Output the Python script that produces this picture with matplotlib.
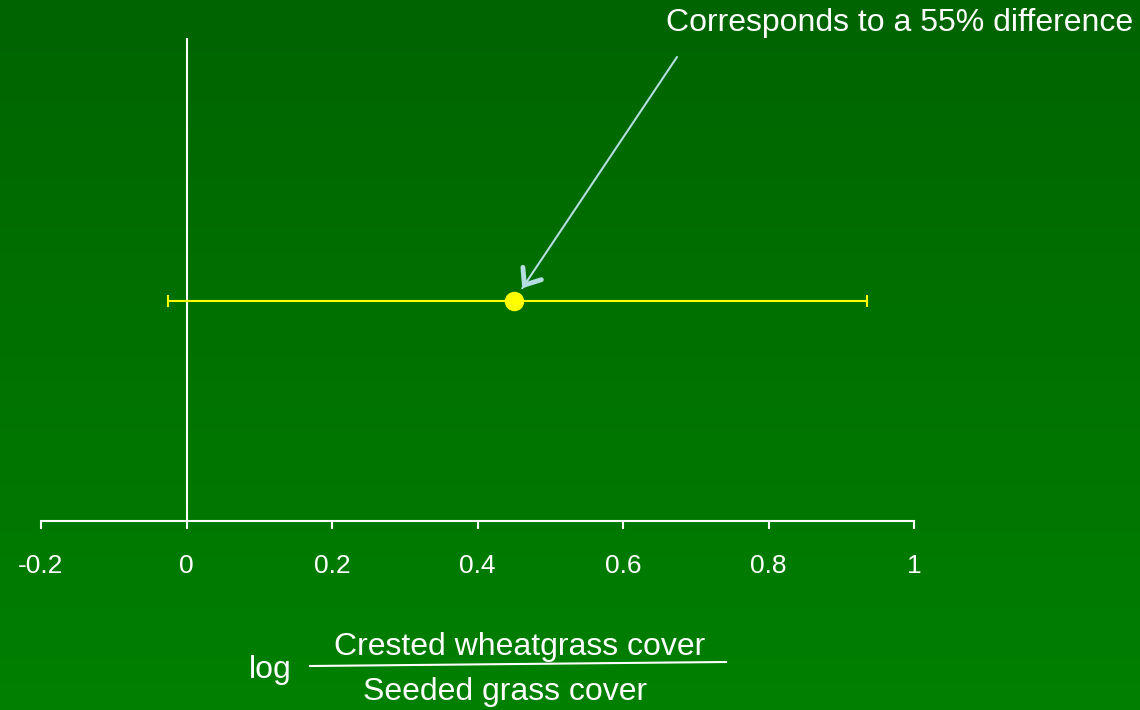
import numpy as np
import matplotlib.pyplot as plt

plt.rcParams['font.family'] = ['Liberation Sans', 'DejaVu Sans']

# effect size with its interval
estimate = [0.45]
ci_low = [-0.025]
ci_high = [0.935]
row = [0]

ticks = [-0.2, 0, 0.2, 0.4, 0.6, 0.8, 1]
tick_labels = ['-0.2', '0', '0.2', '0.4', '0.6', '0.8', '1']

fig = plt.figure(figsize=(11.4, 7.1), dpi=100)

# green backdrop, darker at the top
bg = fig.add_axes([0, 0, 1, 1])
grad = np.linspace(0, 1, 256).reshape(-1, 1)
top = np.array([0, 100, 0]) / 255
bottom = np.array([0, 128, 0]) / 255
img = top + (bottom - top) * grad[..., None]
bg.imshow(img, aspect='auto', extent=[0, 1, 0, 1], origin='upper')
bg.axis('off')

ax = fig.add_axes([41 / 1140, 189 / 710, 873 / 1140, 483 / 710])
ax.patch.set_alpha(0)
ax.set_xlim(-0.2, 1)
ax.set_ylim(-1, 1.2)

ax.axvline(0, color='white', lw=1.5, zorder=1)

lo = np.array(estimate) - np.array(ci_low)
hi = np.array(ci_high) - np.array(estimate)
ax.errorbar(estimate, row, xerr=[lo, hi], fmt='o', color='yellow',
            ms=13, elinewidth=1.5, capsize=4.5, capthick=1.5, zorder=3)

for side in ['top', 'right', 'left']:
    ax.spines[side].set_visible(False)
ax.spines['bottom'].set_color('white')
ax.spines['bottom'].set_linewidth(1.5)
ax.set_yticks([])
ax.set_xticks(ticks)
ax.set_xticklabels(tick_labels)
ax.tick_params(axis='x', colors='white', direction='out', length=6, width=1.5,
               pad=18, labelsize=19)

fig.text(1133 / 1140, 1 - 23 / 710, 'Corresponds to a 55% difference',
         ha='right', va='center', color='white', fontsize=23)

# pointer: thin shaft plus a heavier head just above the point
arrow_col = '#b4dde2'
tip = np.array([estimate[0] + 0.0115, row[0] + 0.06])
start_fig = (677 / 1140, 1 - 57 / 710)
start = ax.transData.inverted().transform(fig.transFigure.transform(start_fig))
ax.annotate('', xy=tip, xytext=start_fig, textcoords='figure fraction',
            arrowprops=dict(arrowstyle='-', color=arrow_col, lw=1.5,
                            shrinkA=0, shrinkB=0))
head_base = tip + (start - tip) * 0.02
ax.annotate('', xy=tip, xytext=head_base,
            arrowprops=dict(arrowstyle='->, head_length=1.0, head_width=0.8',
                            color=arrow_col, lw=3.5, shrinkA=0, shrinkB=0,
                            capstyle='round', joinstyle='round'))

# axis label written as a log ratio
fig.text(270 / 1140, 1 - 670 / 710, 'log', color='white', fontsize=23,
         ha='center', va='center')
fig.text(520 / 1140, 1 - 647 / 710, 'Crested wheatgrass cover', color='white',
         fontsize=23, ha='center', va='center')
fig.text(505 / 1140, 1 - 692 / 710, 'Seeded grass cover', color='white',
         fontsize=23, ha='center', va='center')
fig.add_artist(plt.Line2D([310 / 1140, 726 / 1140], [1 - 666 / 710, 1 - 662 / 710],
                          color='white', lw=1.5, transform=fig.transFigure))

fig.savefig('out.png', dpi=100)
